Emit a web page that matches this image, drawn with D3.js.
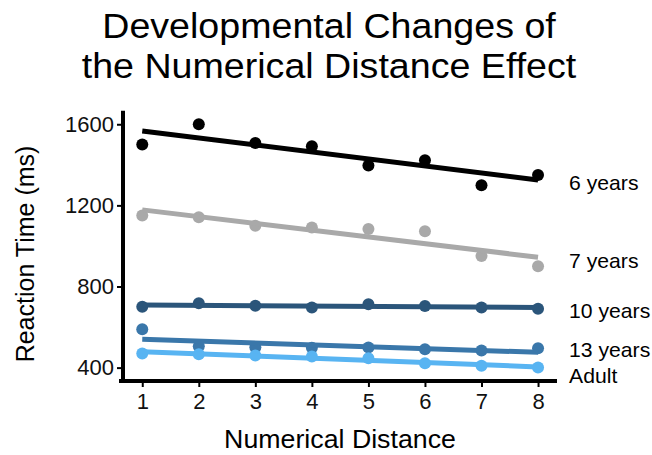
<!DOCTYPE html>
<html>
<head>
<meta charset="utf-8">
<script src="https://cdn.jsdelivr.net/npm/d3@7"></script>
<style>
  html, body { margin: 0; padding: 0; background: #fff; }
  svg { display: block; font-family: "Liberation Sans", Arial, Helvetica, sans-serif; }
</style>
</head>
<body>
<svg id="chart" width="652" height="455"></svg>
<script>
// ---- data ----
const distances = [1, 2, 3, 4, 5, 6, 7, 8];
const groups = ["6 years", "7 years", "10 years", "13 years", "Adult"];
const rt6 = [1500, 1600, 1508, 1492, 1397, 1422, 1299, 1350];
const rt7 = [1150, 1142, 1100, 1091, 1083, 1072, 950, 900];
const rt10 = [700, 717, 705, 697, 712, 704, 697, 690];
const rt13 = [589, 505, 500, 498, 499, 491, 484, 496];
const rtAdult = [470, 466, 460, 455, 446, 421, 409, 400];
const groupColors = ["#000000", "#A9A9A9", "#2B557A", "#3A77AA", "#58B4F2"];
const yTicks = [400, 800, 1200, 1600];
const titleLines = ["Developmental Changes of", "the Numerical Distance Effect"];
const xTitle = "Numerical Distance";
const yTitle = "Reaction Time (ms)";

const seriesValues = [rt6, rt7, rt10, rt13, rtAdult];
const series = groups.map((g, i) => ({ name: g, color: groupColors[i], values: seriesValues[i] }));

// ---- layout ----
const svg = d3.select("#chart");
const x = d3.scaleLinear().domain([0.624, 8.3]).range([121, 555]);
const y = d3.scaleLinear().domain([334, 1657]).range([381, 112.7]);

// linear fit (like geom_smooth(method = "lm"))
function fit(xs, ys) {
  const mx = d3.mean(xs), my = d3.mean(ys);
  const sxy = d3.sum(xs, (v, i) => (v - mx) * (ys[i] - my));
  const sxx = d3.sum(xs, v => (v - mx) * (v - mx));
  const b = sxy / sxx;
  return t => my + b * (t - mx);
}

// title
svg.append("g").selectAll("text").data(titleLines).join("text")
  .attr("transform", (d, i) => `translate(329,${37.5 + i * 40}) scale(1.09,1)`)
  .attr("text-anchor", "middle").attr("font-size", 34.5).attr("fill", "#000")
  .text(d => d);

// axes
const xAxis = svg.append("g").attr("transform", "translate(0,381)")
  .call(d3.axisBottom(x).tickValues(distances).tickFormat(d3.format("d")).tickSize(6).tickPadding(6));
const yAxis = svg.append("g").attr("transform", "translate(123,0)")
  .call(d3.axisLeft(y).tickValues(yTicks).tickFormat(d3.format("d")).tickSize(6).tickPadding(3));
[xAxis, yAxis].forEach(a => {
  a.select(".domain").attr("stroke", "#000").attr("stroke-width", 4).attr("stroke-linecap", "square");
  a.selectAll(".tick line").attr("stroke", "#000").attr("stroke-width", 2);
  a.selectAll(".tick text").attr("fill", "#111").attr("font-size", 22)
    .attr("font-family", "'Liberation Sans', Arial, sans-serif");
});
xAxis.select(".domain").attr("d", "M121,0H555");
yAxis.select(".domain").attr("d", "M0,112.7V381");

// axis titles
svg.append("text").attr("transform", "translate(340,448) scale(1.07,1)").attr("text-anchor", "middle")
  .attr("font-size", 25).attr("fill", "#000").text(xTitle);
svg.append("text").attr("transform", "translate(34,254) rotate(-90)").attr("text-anchor", "middle")
  .attr("font-size", 25).attr("fill", "#000").text(yTitle);

// series
const plot = svg.append("g");
series.forEach(s => {
  const f = fit(distances, s.values);
  s.fit = f;
  const g = plot.append("g");
  g.selectAll("circle").data(distances).join("circle")
    .attr("cx", d => x(d)).attr("cy", (d, i) => y(s.values[i])).attr("r", 6)
    .attr("fill", s.color);
  g.append("line")
    .attr("x1", x(distances[0])).attr("y1", y(f(distances[0])))
    .attr("x2", x(distances[distances.length - 1])).attr("y2", y(f(distances[distances.length - 1])))
    .attr("stroke", s.color).attr("stroke-width", 5);
});

// direct labels at the end of the fitted lines, pushed apart to avoid overlap
const lastX = distances[distances.length - 1];
const labels = series.map(s => ({ name: s.name, pos: y(s.fit(lastX)) }));
labels.sort((a, b) => a.pos - b.pos);
const gap = 26;
for (let iter = 0; iter < 50; iter++) {
  for (let i = 1; i < labels.length; i++) {
    const d = labels[i].pos - labels[i - 1].pos;
    if (d < gap) {
      const push = (gap - d) / 2;
      labels[i].pos += push;
      labels[i - 1].pos -= push;
    }
  }
}
svg.append("g").selectAll("text").data(labels).join("text")
  .attr("transform", d => `translate(569,${d.pos + 3}) scale(1.06,1)`)
  .attr("dominant-baseline", "central")
  .attr("font-size", 20).attr("fill", "#000")
  .text(d => d.name);
</script>
</body>
</html>
